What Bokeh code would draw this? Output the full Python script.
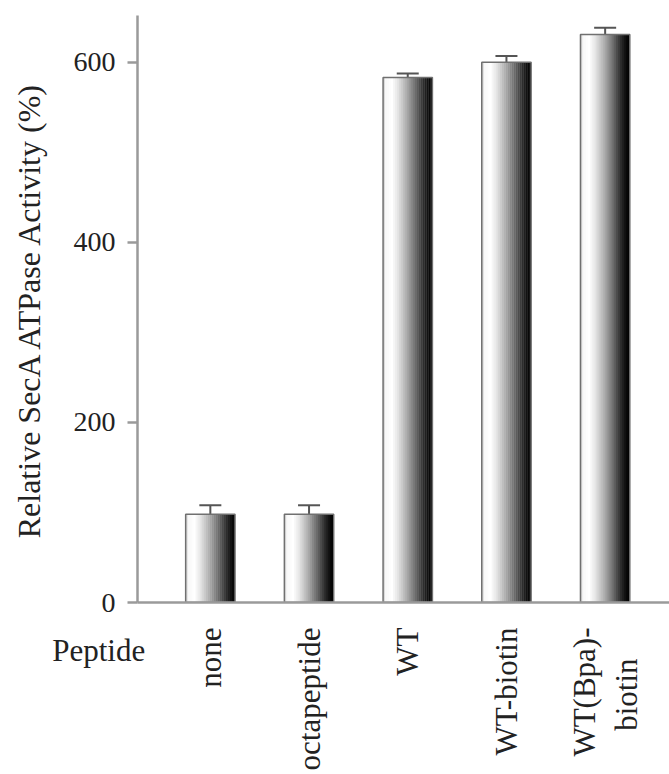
import numpy as np
from bokeh.plotting import figure
from bokeh.models import (Range1d, FixedTicker, Whisker, TeeHead, ColumnDataSource,
                          LinearAxis)
from bokeh.embed import file_html
from bokeh.resources import INLINE

# ---- data ----
categories = ["none", "octapeptide", "WT", "WT-biotin", "WT(Bpa)-\nbiotin    "]
activity = [98, 98, 583, 600, 631]
errors = [10, 10, 4.5, 7, 7.5]
y_ticks = [0, 200, 400, 600]
x_title = "Peptide" + " " * 10
y_title = "Relative SecA ATPase Activity (%)"

positions = list(range(1, len(categories) + 1))
bar_width = 0.5
FONT = "Liberation Serif"
TXT = "#222222"
AX = "#9a9a9a"

p = figure(width=669, height=772, output_backend="svg", toolbar_location=None,
           x_range=Range1d(0.262, 5.652), y_range=Range1d(0, 652),
           min_border_left=137, min_border_right=0, min_border_top=15,
           min_border_bottom=170, x_axis_type=None, y_axis_type=None)
p.grid.visible = False
p.outline_line_color = None
p.background_fill_color = "white"
p.border_fill_color = "white"

# gradient-filled bars made of thin strips
n_strips = 25
stops_t = [0, 0.06, 0.18, 0.3, 0.5, 0.68, 0.82, 0.92, 1.0]
stops_v = [205, 248, 255, 228, 165, 100, 45, 12, 0]
lefts, rights, tops, colors = [], [], [], []
for pos, val in zip(positions, activity):
    x0 = pos - bar_width / 2
    for k in range(n_strips):
        t = (k + 0.5) / n_strips
        g = int(round(np.interp(t, stops_t, stops_v)))
        lefts.append(x0 + k * bar_width / n_strips)
        rights.append(min(x0 + (k + 1) * bar_width / n_strips + 0.003, pos + bar_width / 2))
        tops.append(val)
        colors.append(f"#{g:02x}{g:02x}{g:02x}")
p.quad(left=lefts, right=rights, bottom=0, top=tops, fill_color=colors, line_color=None)
p.vbar(x=positions, top=activity, width=bar_width, bottom=0, fill_color=None,
       line_color="#707070", line_width=1.5)

# error bars (upper only)
src = ColumnDataSource(dict(x=positions, base=activity,
                            upper=[a + e for a, e in zip(activity, errors)]))
w = Whisker(base="x", lower="base", upper="upper", source=src, dimension="height",
            line_color="#555555", line_width=2, lower_head=None,
            upper_head=TeeHead(size=22, line_color="#555555", line_width=2))
p.add_layout(w)

# y axis
yaxis = LinearAxis(ticker=FixedTicker(ticks=y_ticks, minor_ticks=[]), axis_label=y_title)
yaxis.axis_line_color = AX
yaxis.axis_line_width = 2.5
yaxis.major_tick_line_color = AX
yaxis.major_tick_line_width = 2.5
yaxis.major_tick_out = 10
yaxis.major_tick_in = 0
yaxis.minor_tick_line_color = None
yaxis.major_label_standoff = 12
yaxis.major_label_text_font = FONT
yaxis.major_label_text_font_size = "28px"
yaxis.major_label_text_color = TXT
yaxis.axis_label_text_font = FONT
yaxis.axis_label_text_font_size = "32px"
yaxis.axis_label_text_font_style = "normal"
yaxis.axis_label_text_color = TXT
yaxis.axis_label_standoff = 24
p.add_layout(yaxis, "left")

# x axis with category labels
xaxis = LinearAxis(ticker=FixedTicker(ticks=positions, minor_ticks=[]),
                   major_label_overrides={pos: cat for pos, cat in zip(positions, categories)},
                   axis_label=x_title)
xaxis.axis_line_color = AX
xaxis.axis_line_width = 2.5
xaxis.major_tick_line_color = None
xaxis.major_tick_out = 0
xaxis.major_tick_in = 0
xaxis.minor_tick_line_color = None
xaxis.major_label_orientation = np.pi / 2
xaxis.major_label_standoff = 25
xaxis.major_label_text_font = FONT
xaxis.major_label_text_font_size = "31px"
xaxis.major_label_text_color = TXT
xaxis.axis_label_align = "start"
xaxis.axis_label_standoff = -140
xaxis.axis_label_text_font = FONT
xaxis.axis_label_text_font_size = "31px"
xaxis.axis_label_text_font_style = "normal"
xaxis.axis_label_text_color = TXT
p.add_layout(xaxis, "below")

open("out.html", "w").write(file_html(p, INLINE))
